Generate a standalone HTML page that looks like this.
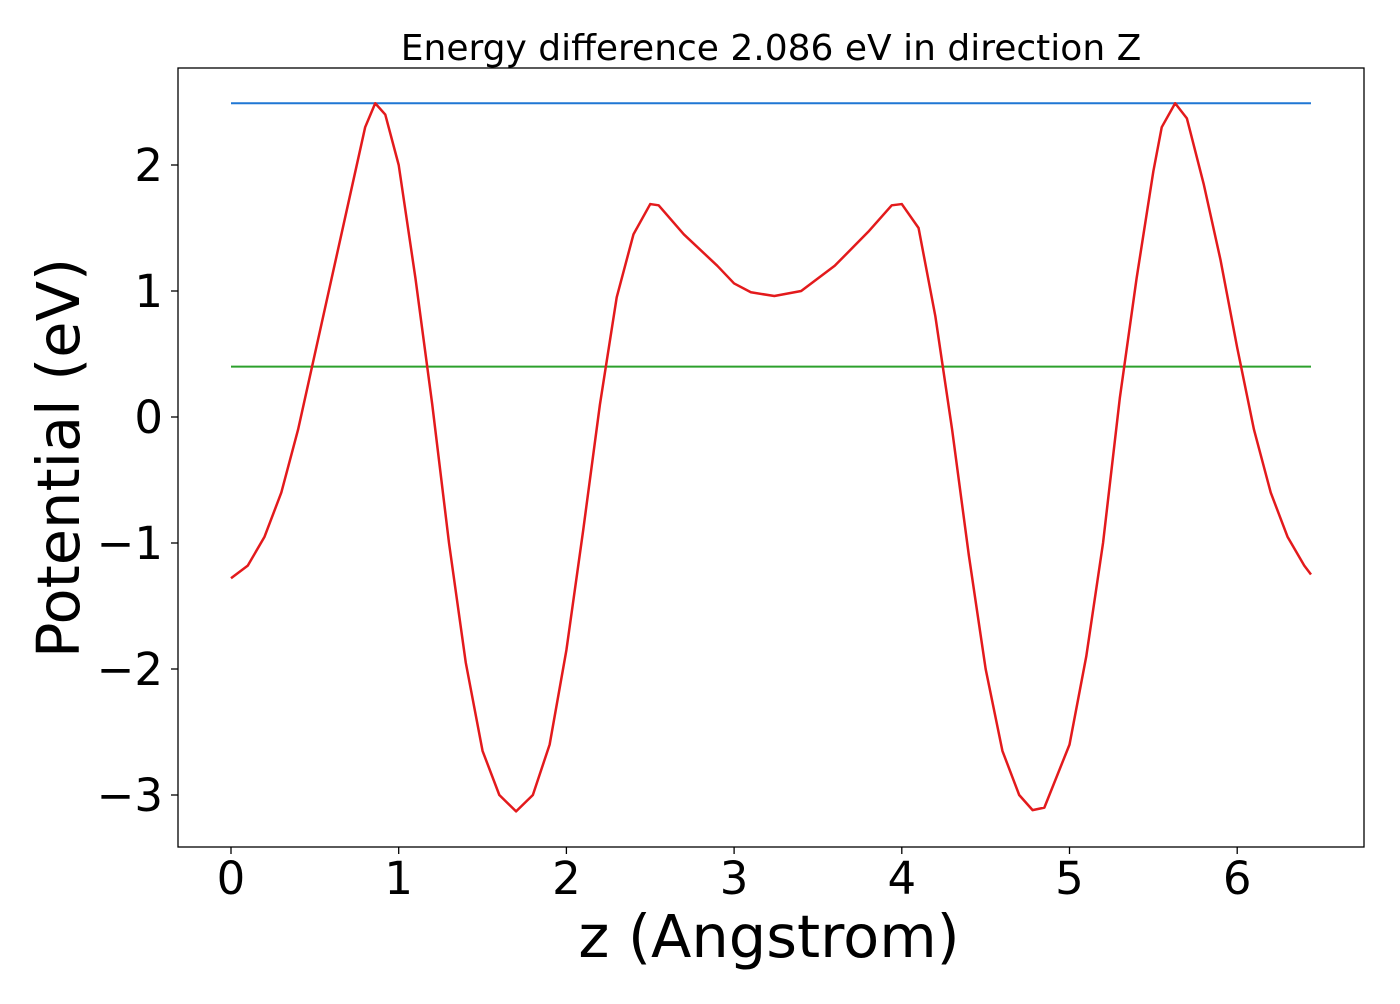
<!DOCTYPE html>
<html><head><meta charset="utf-8"><style>
body{margin:0;background:#fff;font-family:"DejaVu Sans","Liberation Sans",sans-serif}
</style></head><body>
<svg width="1400" height="1000" xmlns="http://www.w3.org/2000/svg" id="chart">
<rect width="1400" height="1000" fill="#fff"/>
<text x="771" y="60" text-anchor="middle" font-size="36">Energy difference 2.086 eV in direction Z</text>
<g id="axes"></g>
<rect x="178" y="68" width="1186" height="779" fill="none" stroke="#000" stroke-width="1.3"/>
<text x="769" y="957" text-anchor="middle" font-size="59">z (Angstrom)</text>
<text transform="translate(79,458) rotate(-90)" text-anchor="middle" font-size="59">Potential (eV)</text>
</svg>
<script>
const xTicks=[0,1,2,3,4,5,6];
const yTicks=[-3,-2,-1,0,1,2];
const zs=[0,0.1,0.2,0.3,0.4,0.5,0.6,0.7,0.8,0.86,0.92,1.0,1.1,1.2,1.3,1.4,1.5,1.6,1.7,1.8,1.9,2.0,2.1,2.2,2.3,2.4,2.5,2.55,2.7,2.9,3.0,3.1,3.24,3.4,3.6,3.8,3.94,4.0,4.1,4.2,4.3,4.4,4.5,4.6,4.7,4.78,4.85,5.0,5.1,5.2,5.3,5.4,5.5,5.55,5.63,5.7,5.8,5.9,6.0,6.1,6.2,6.3,6.4,6.44];
const potential=[-1.28,-1.18,-0.95,-0.6,-0.1,0.5,1.1,1.7,2.3,2.49,2.4,2.0,1.1,0.1,-1.0,-1.95,-2.65,-3.0,-3.13,-3.0,-2.6,-1.85,-0.9,0.1,0.95,1.45,1.69,1.68,1.45,1.2,1.06,0.99,0.96,1.0,1.2,1.47,1.68,1.69,1.5,0.8,-0.1,-1.1,-2.0,-2.65,-3.0,-3.12,-3.1,-2.6,-1.9,-1.0,0.15,1.1,1.95,2.3,2.49,2.37,1.85,1.25,0.55,-0.1,-0.6,-0.95,-1.18,-1.25];
const maxLevel=[2.49];
const refLevel=[0.40];
const X=v=>231+v*167.7, Y=v=>417-v*126;
const NS="http://www.w3.org/2000/svg";
const g=document.getElementById('axes');
function mk(t,a){const e=document.createElementNS(NS,t);for(const k in a)e.setAttribute(k,a[k]);g.appendChild(e);return e;}
xTicks.forEach(t=>{
 const l=mk('line',{x1:X(t),x2:X(t),y1:847,y2:854,stroke:'#000','stroke-width':1.3});
 
 
 const s=mk('text',{x:X(t),y:894,'text-anchor':'middle','font-size':45});s.textContent=String(t);
 
 
});
yTicks.forEach(t=>{
 const l=mk('line',{x1:171,x2:178,y1:Y(t),y2:Y(t),stroke:'#000','stroke-width':1.3});
 
 
 const s=mk('text',{x:163,y:Y(t)+16,'text-anchor':'end','font-size':45});s.textContent=(t<0?'\u2212'+(-t):String(t));
 
 
});
const x0=zs[0],x1=zs[zs.length-1];
const b=mk('line',{x1:X(x0),x2:X(x1),y1:Y(maxLevel[0]),y2:Y(maxLevel[0]),stroke:'#1f77d4','stroke-width':2});


const gr=mk('line',{x1:X(x0),x2:X(x1),y1:Y(refLevel[0]),y2:Y(refLevel[0]),stroke:'#2ca02c','stroke-width':2});


const p=mk('polyline',{points:zs.map((z,i)=>X(z)+','+Y(potential[i])).join(' '),fill:'none',stroke:'#e31a1c','stroke-width':2.5,'stroke-linejoin':'round'});


</script>
</body></html>
